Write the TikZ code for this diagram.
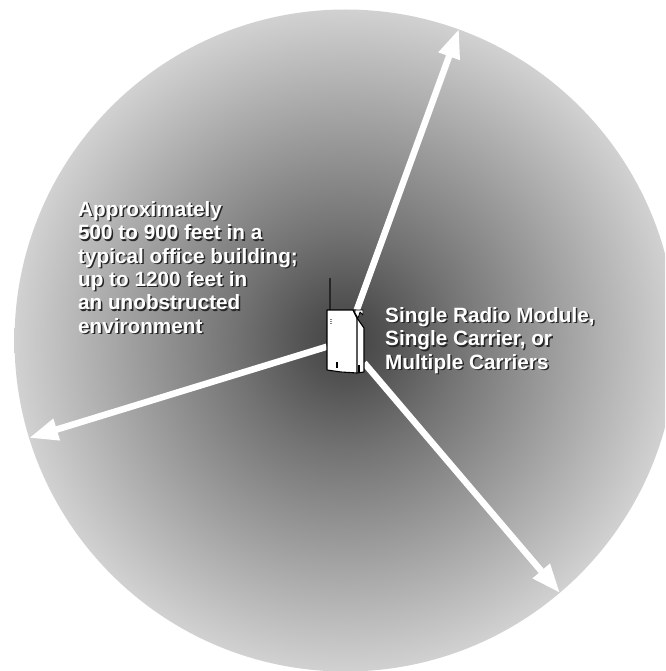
\documentclass[tikz,border=0pt]{standalone}
\usepackage{fontspec}
\setmainfont{Liberation Sans}
\usetikzlibrary{arrows.meta}
\pgfdeclareradialshading{coverage}{\pgfpoint{0bp}{0bp}}{
 color(0bp)=(black!74!white);
 color(3bp)=(black!68!white);
 color(8.3bp)=(black!55!white);
 color(16bp)=(black!38!white);
 color(25bp)=(black!18!white);
 color(50bp)=(black!18!white)}
\tikzset{
 x=1pt,y=-1pt,
 coverzone/.style={shading=coverage},
 ray/.style={draw=white,line width=6.5pt,-{Triangle[length=29pt,width=21pt,fill=white]}},
 caption/.style={font=\bfseries\fontsize{20.7pt}{23.4pt}\selectfont,align=left,anchor=north west,inner sep=0pt,text=white},
 captionshadow/.style={caption,text=black!85},
 devicepart/.style={draw=black,line width=1.1pt,fill=white,line join=round}
}
\begin{document}
\begin{tikzpicture}
\useasboundingbox (0,0) rectangle (665,671);
\fill[white] (0,0) rectangle (665,671);
\begin{scope}
\clip (0,0) rectangle (665,671);
\shade[coverzone] (345.5,340.5) circle[radius=331];
\end{scope}
\node[minimum width=37pt,minimum height=62pt,inner sep=0pt] (device) at (345.5,341) {};
\coordinate (tipN) at (459,29);
\coordinate (tipW) at (29,438);
\coordinate (tipS) at (560,593);
\draw[ray] (device) -- (tipN);
\draw[ray] (device) -- (tipW);
\draw[ray] (device) -- (tipS);
% device
\draw[black!85,line width=1.8pt] (330,311) -- (330,278);
\draw[devicepart] (327,310) -- (353,310) -- (357,318) -- (364,328) -- (364,372) -- (357,373) -- (341,372) -- (327,370) -- cycle;
\draw[black,line width=1.1pt] (353,310) -- (357,318) -- (357,373);
\draw[devicepart,line width=.8pt] (355,310) -- (363,310) -- (363,315) -- (360,312) -- (358,318) -- (355,313) -- cycle;
\fill[black] (335.5,362) rectangle (337.5,368);
\fill[black] (357.5,365) rectangle (360,372);
\draw[black!50,line width=.3pt] (330,319) -- (332,319) (330,321) -- (332,321) (330,323) -- (332,323);
% captions
\node[captionshadow] (leftshadow) at (79.5,202.5) {Approximately\\500 to 900 feet in a\\typical office building;\\up to 1200 feet in\\an unobstructed\\environment};
\node[caption] (left) at (78,201) {Approximately\\500 to 900 feet in a\\typical office building;\\up to 1200 feet in\\an unobstructed\\environment};
\node[captionshadow] (rightshadow) at (386.5,308.5) {Single Radio Module,\\Single Carrier, or\\Multiple Carriers};
\node[caption] (right) at (385,307) {Single Radio Module,\\Single Carrier, or\\Multiple Carriers};
\end{tikzpicture}
\end{document}
